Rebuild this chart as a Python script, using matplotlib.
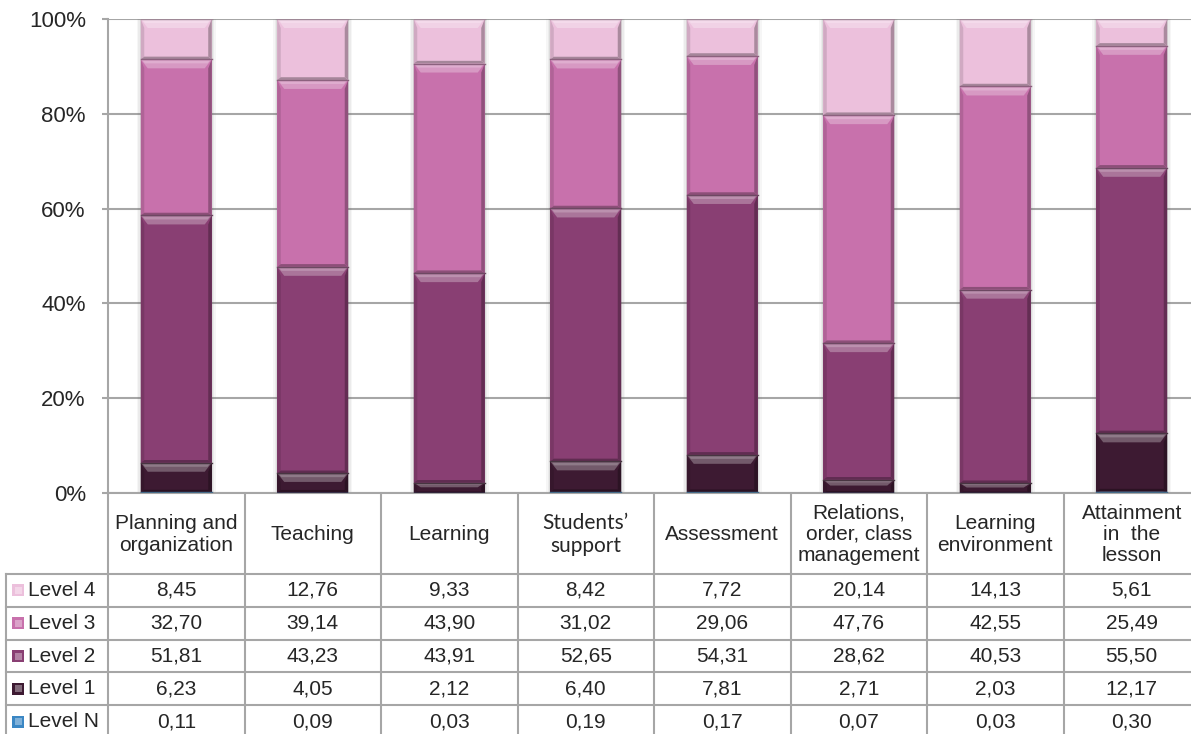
import matplotlib
matplotlib.use('Agg')
import matplotlib.pyplot as plt
from matplotlib.patches import Polygon, Rectangle
from matplotlib.colors import to_rgb
import numpy as np

plt.rcParams['font.family'] = ['Liberation Sans', 'DejaVu Sans']

categories = ['Planning and\norganization', 'Teaching', 'Learning', 'Students\u2019\nsupport',
              'Assessment', 'Relations,\norder, class\nmanagement', 'Learning\nenvironment',
              'Attainment\nin  the\nlesson']
levels = ['Level N', 'Level 1', 'Level 2', 'Level 3', 'Level 4']
level_n = [0.11, 0.09, 0.03, 0.19, 0.17, 0.07, 0.03, 0.30]
level_1 = [6.23, 4.05, 2.12, 6.40, 7.81, 2.71, 2.03, 12.17]
level_2 = [51.81, 43.23, 43.91, 52.65, 54.31, 28.62, 40.53, 55.50]
level_3 = [32.70, 39.14, 43.90, 31.02, 29.06, 47.76, 42.55, 25.49]
level_4 = [8.45, 12.76, 9.33, 8.42, 7.72, 20.14, 14.13, 5.61]
colors = ['#3b87c4', '#3d1a32', '#893f73', '#c871ac', '#ecc0dc']

series = np.array([level_n, level_1, level_2, level_3, level_4])
shares = series / series.sum(axis=0) * 100


def mix(c, other, t):
    c = np.array(to_rgb(c))
    o = np.array(to_rgb(other))
    return tuple(c * (1 - t) + o * t)


W, H = 1191, 734
fig = plt.figure(figsize=(W / 100, H / 100), dpi=100)

# layout in pixels
left, top, zero = 108, 19, 493
colw = 136.5
ax = fig.add_axes([left / W, (H - zero) / H, 8 * colw / W, (zero - top) / H])

x = np.arange(len(categories))
bw = 0.52
ax.set_xlim(-0.5, len(categories) - 0.5)
ax.set_ylim(0, 100)

# soft shadow behind each column
for xi in x:
    for k, a in [(4, 0.05), (2.5, 0.07), (1.2, 0.10)]:
        ax.add_patch(Rectangle((xi - bw / 2 - k * 0.0073, -0.2), bw + 2 * k * 0.0073, 100 + k * 0.21,
                               color='#606060', alpha=a, lw=0, zorder=2))

px_x = bw / 71.0
px_y = 100.0 / (zero - top)
bottom = np.zeros(len(categories))
for vals, col in zip(shares, colors):
    bars = ax.bar(x, vals, bw, bottom=bottom, color=col, lw=0, zorder=3)
    for b in bars:
        bx, by, w, h = b.get_x(), b.get_y(), b.get_width(), b.get_height()
        if h <= 0:
            continue
        d = min(9 * px_y, h * 0.45)
        s = min(7 * px_x, w * 0.2)
        # side bevels
        ax.add_patch(Polygon([(bx, by), (bx + s * 0.5, by + d * 0.3), (bx + s * 0.5, by + h - d),
                              (bx, by + h)], closed=True, color=mix(col, 'black', 0.12), lw=0, zorder=4))
        ax.add_patch(Polygon([(bx + w, by), (bx + w - s * 0.5, by + d * 0.3), (bx + w - s * 0.5, by + h - d),
                              (bx + w, by + h)], closed=True, color=mix(col, 'black', 0.28), lw=0, zorder=4))
        # bottom shade
        ax.add_patch(Polygon([(bx, by), (bx + w, by), (bx + w - s * 0.5, by + d * 0.3),
                              (bx + s * 0.5, by + d * 0.3)], closed=True,
                             color=mix(col, 'black', 0.3), lw=0, zorder=4))
        # top bevel highlight
        ax.add_patch(Polygon([(bx, by + h), (bx + w, by + h), (bx + w - s, by + h - d),
                              (bx + s, by + h - d)], closed=True,
                             color=mix(col, 'white', 0.28), lw=0, zorder=4))
        ax.add_patch(Polygon([(bx + s * 0.3, by + h - d * 0.15), (bx + w - s * 0.3, by + h - d * 0.15),
                              (bx + w - s * 0.6, by + h - d * 0.45), (bx + s * 0.6, by + h - d * 0.45)],
                             closed=True, color=mix(col, 'white', 0.42), lw=0, zorder=4))
        ax.plot([bx, bx + w], [by + h, by + h], color=mix(col, '#505050', 0.5), lw=1, zorder=5)
    bottom += vals

ax.set_yticks(np.arange(0, 101, 20))
ax.set_yticklabels([f'{v}%' for v in range(0, 101, 20)], fontsize=16, color='#262626')
ax.set_xticks([])
ax.grid(axis='y', color='#a6a6a6', lw=1.5, zorder=0)
ax.set_axisbelow(True)
ax.tick_params(axis='y', length=4, width=1.5, color='#a6a6a6', pad=12)
for sp in ['top', 'right']:
    ax.spines[sp].set_visible(False)
for sp in ['left', 'bottom']:
    ax.spines[sp].set_color('#a6a6a6')
    ax.spines[sp].set_linewidth(1.5)
ax.spines['left'].set_zorder(1)

# data table drawn in pixel coordinates
tb = fig.add_axes([0, 0, 1, 1], zorder=-1)
tb.set_xlim(0, W)
tb.set_ylim(H, 0)
tb.axis('off')
tb.patch.set_alpha(0)

head_bot = 574
row_h = 32.8
line_kw = dict(color='#a6a6a6', lw=1.5)
for i in range(1, 9):
    xb = left + i * colw
    tb.plot([xb, xb], [zero, H], **line_kw)
tb.plot([left, left], [zero, H], **line_kw)
tb.plot([6, 6], [head_bot, H], **line_kw)
for r in range(6):
    yr = head_bot + r * row_h
    tb.plot([6, W], [yr, yr], **line_kw)

for i, name in enumerate(categories):
    cx = left + (i + 0.5) * colw
    fam = ['Lato', 'DejaVu Sans'] if name.startswith('Students') else None
    kw = dict(family=fam) if fam else {}
    tb.text(cx, (zero + head_bot) / 2 + 1, name, ha='center', va='center', fontsize=15,
            color='#262626', linespacing=1.15, **kw)

row_order = [4, 3, 2, 1, 0]
for r, li in enumerate(row_order):
    yc = head_bot + (r + 0.5) * row_h
    col = colors[li]
    tb.add_patch(Rectangle((12, yc - 6), 12, 12, color=col, lw=0))
    tb.add_patch(Rectangle((14.5, yc - 3.5), 7, 7, color=mix(col, 'white', 0.35), lw=0))
    tb.text(28, yc, levels[li], ha='left', va='center', fontsize=15, color='#262626')
    for i in range(len(categories)):
        cx = left + (i + 0.5) * colw
        tb.text(cx, yc, f'{series[li][i]:.2f}'.replace('.', ','), ha='center', va='center',
                fontsize=15, color='#262626')

fig.savefig('out.png', dpi=100)
